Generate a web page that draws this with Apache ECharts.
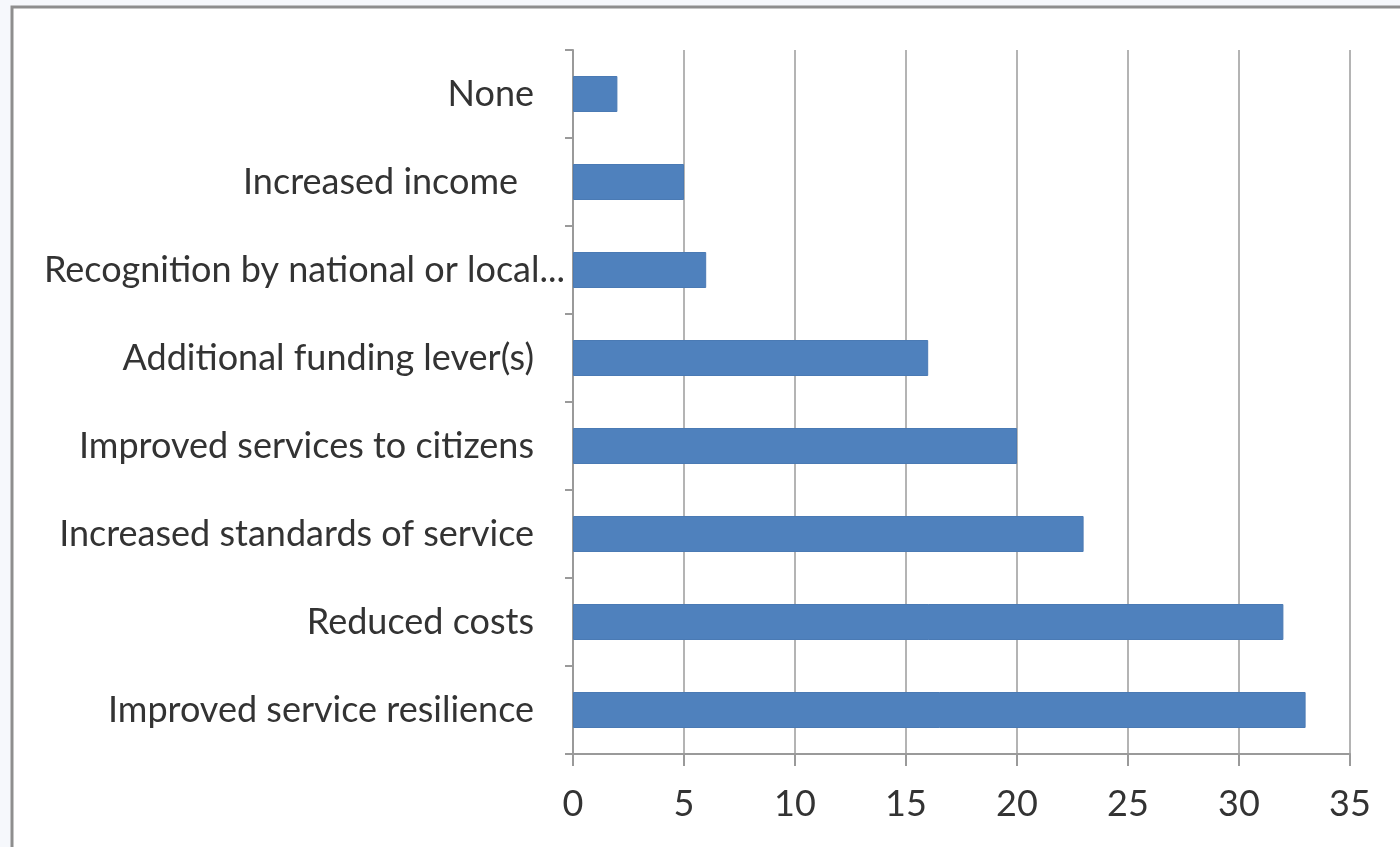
<!DOCTYPE html>
<html>
<head>
<meta charset="utf-8">
<title>Benefits realised</title>
<script src="https://cdn.jsdelivr.net/npm/echarts@6/dist/echarts.min.js"></script>
<style>
  html, body { margin: 0; padding: 0; background: #f6f8fc; }
  #chart { width: 1400px; height: 847px; }
</style>
</head>
<body>
<div id="chart"></div>
<script>
// Survey responses: benefits reported (count of respondents)
const categories = [
  'None',
  'Increased income',
  'Recognition by national or local...',
  'Additional funding lever(s)',
  'Improved services to citizens',
  'Increased standards of service',
  'Reduced costs',
  'Improved service resilience'
];
const counts = [2, 5, 6, 16, 20, 23, 32, 33];
const xTicks = { min: 0, max: 35, step: 5 };

const FONT = 'Lato';
const FONT_SIZE = 36;
const TEXT = '#333333';
const GRID_LINE = '#b4b4b4';
const AXIS_LINE = '#9a9a9a';

const chart = echarts.init(document.getElementById('chart'), null, { renderer: 'canvas' });

chart.setOption({
  backgroundColor: '#f6f8fc',
  animation: false,
  graphic: [
    {
      type: 'rect',
      shape: { x: 12, y: 7, width: 1420, height: 880 },
      style: { fill: '#ffffff', stroke: '#8e8e8e', lineWidth: 3 },
      z: -10,
      silent: true
    }
  ],
  grid: { left: 573, right: 50, top: 50, bottom: 93, containLabel: false },
  xAxis: {
    type: 'value',
    min: xTicks.min,
    max: xTicks.max,
    interval: xTicks.step,
    axisLine: { show: true, lineStyle: { color: AXIS_LINE, width: 2 } },
    axisTick: { show: true, length: 12, lineStyle: { color: AXIS_LINE, width: 2 } },
    splitLine: { show: true, lineStyle: { color: GRID_LINE, width: 2 } },
    axisLabel: {
      margin: 32,
      color: TEXT,
      fontFamily: FONT,
      fontSize: FONT_SIZE
    }
  },
  yAxis: {
    type: 'category',
    inverse: true,
    data: categories,
    axisLine: { show: true, lineStyle: { color: AXIS_LINE, width: 2 } },
    axisTick: { show: true, length: 8, lineStyle: { color: AXIS_LINE, width: 2 } },
    splitLine: { show: false },
    axisLabel: {
      margin: 39,
      color: TEXT,
      fontFamily: FONT,
      fontSize: FONT_SIZE,
      formatter: function (v) {
        if (v === 'Increased income') return '{inc|' + v + '}';
        if (v.indexOf('Recognition') === 0) return '{rec|' + v + '}';
        return v;
      },
      rich: {
        inc: { color: TEXT, fontFamily: FONT, fontSize: FONT_SIZE, padding: [0, 16, 0, 0] },
        rec: { color: TEXT, fontFamily: FONT, fontSize: FONT_SIZE, padding: [0, -31, 0, 0] }
      }
    }
  },
  series: [
    {
      type: 'bar',
      data: counts,
      barWidth: 36,
      itemStyle: { color: '#4f81bd', borderColor: '#4a7ab4', borderWidth: 1 }
    }
  ]
});
</script>
</body>
</html>
